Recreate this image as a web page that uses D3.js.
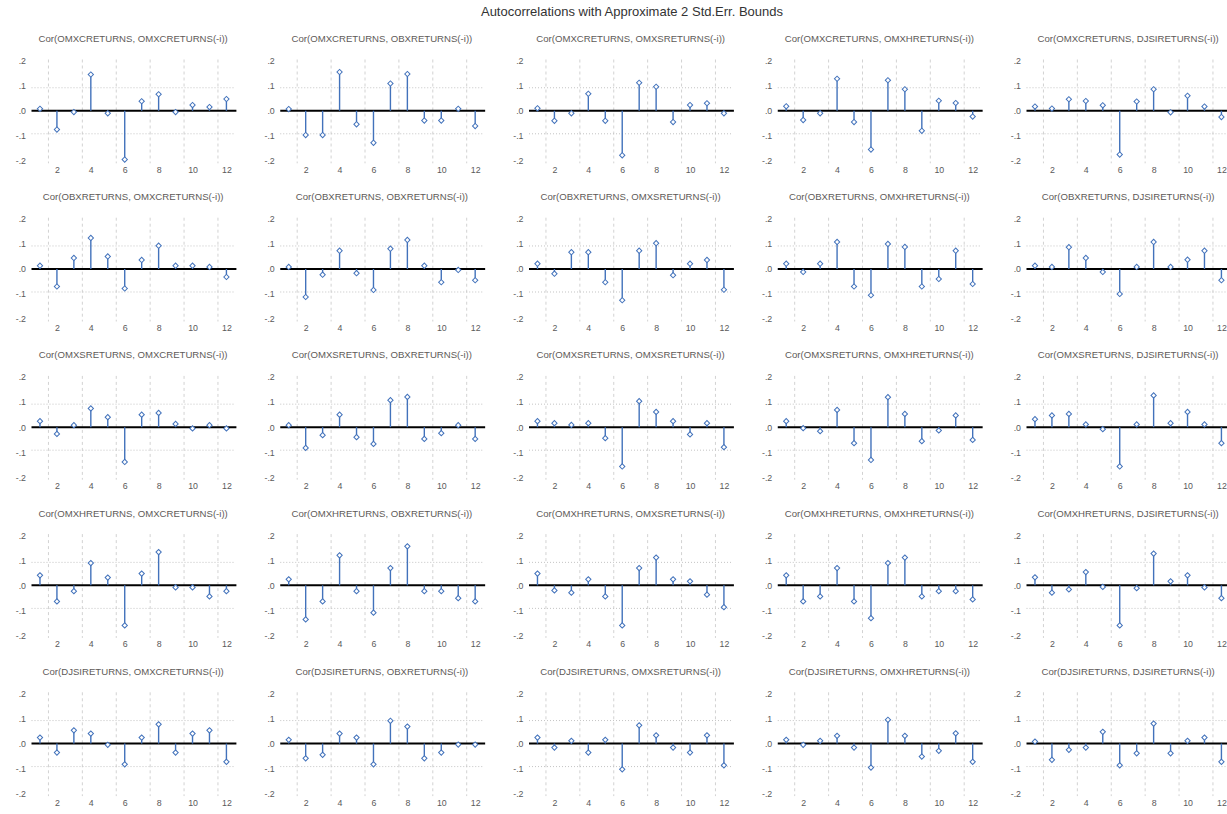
<!DOCTYPE html>
<html lang="en">
<head>
<meta charset="UTF-8">
<title>Autocorrelations with Approximate 2 Std.Err. Bounds</title>
<script src="https://cdn.jsdelivr.net/npm/d3@7"></script>
<style>
    body { margin: 0; background: #ffffff; }
    text { font-family: "Liberation Sans", Arial, sans-serif; }
</style>
</head>
<body>
<script>

    // series in row order; row = series, column = lagged series
    var seriesNames = ["OMXCRETURNS", "OBXRETURNS", "OMXSRETURNS", "OMXHRETURNS", "DJSIRETURNS"];
    var lags = [1, 2, 3, 4, 5, 6, 7, 8, 9, 10, 11, 12];
    var xTicks = [2, 4, 6, 8, 10, 12];
    var yTicks = [0.2, 0.1, 0, -0.1, -0.2];
    var yTickLabels = [".2", ".1", ".0", "-.1", "-.2"];
    var seBound = 0.092;
    var mainTitle = "Autocorrelations with Approximate 2 Std.Err. Bounds";

    // lags 1..12
    var corOMXC_OMXC = [0.008, -0.075, -0.005, 0.145, -0.01, -0.195, 0.038, 0.066, -0.005, 0.023, 0.015, 0.047];
    var corOMXC_OBX  = [0.007, -0.097, -0.097, 0.155, -0.054, -0.128, 0.109, 0.147, -0.039, -0.039, 0.008, -0.061];
    var corOMXC_OMXS = [0.01, -0.04, -0.01, 0.068, -0.04, -0.178, 0.112, 0.096, -0.045, 0.023, 0.03, -0.01];
    var corOMXC_OMXH = [0.018, -0.037, -0.01, 0.128, -0.045, -0.155, 0.122, 0.086, -0.08, 0.04, 0.031, -0.023];
    var corOMXC_DJSI = [0.017, 0.009, 0.046, 0.039, 0.022, -0.175, 0.037, 0.086, -0.006, 0.06, 0.017, -0.025];

    var corOBX_OMXC = [0.013, -0.07, 0.044, 0.124, 0.05, -0.078, 0.036, 0.093, 0.013, 0.013, 0.008, -0.032];
    var corOBX_OBX  = [0.008, -0.112, -0.023, 0.073, -0.017, -0.084, 0.081, 0.116, 0.013, -0.053, -0.004, -0.045];
    var corOBX_OMXS = [0.021, -0.019, 0.067, 0.067, -0.053, -0.125, 0.073, 0.103, -0.025, 0.021, 0.036, -0.083];
    var corOBX_OMXH = [0.021, -0.012, 0.021, 0.108, -0.07, -0.105, 0.1, 0.088, -0.07, -0.04, 0.073, -0.06];
    var corOBX_DJSI = [0.013, 0.008, 0.087, 0.044, -0.012, -0.1, 0.008, 0.108, 0.008, 0.037, 0.073, -0.045];

    var corOMXS_OMXC = [0.024, -0.027, 0.008, 0.075, 0.04, -0.139, 0.05, 0.057, 0.013, -0.005, 0.008, -0.005];
    var corOMXS_OBX  = [0.008, -0.083, -0.032, 0.05, -0.04, -0.067, 0.108, 0.121, -0.047, -0.024, 0.008, -0.047];
    var corOMXS_OMXS = [0.024, 0.016, 0.009, 0.016, -0.044, -0.157, 0.104, 0.061, 0.024, -0.029, 0.016, -0.08];
    var corOMXS_OMXH = [0.024, -0.004, -0.016, 0.069, -0.064, -0.131, 0.12, 0.053, -0.056, -0.013, 0.047, -0.051];
    var corOMXS_DJSI = [0.032, 0.047, 0.053, 0.011, -0.008, -0.157, 0.011, 0.127, 0.016, 0.061, 0.011, -0.064];

    var corOMXH_OMXC = [0.04, -0.064, -0.023, 0.089, 0.031, -0.16, 0.047, 0.133, -0.008, -0.008, -0.044, -0.023];
    var corOMXH_OBX  = [0.024, -0.136, -0.064, 0.12, -0.023, -0.109, 0.069, 0.156, -0.023, -0.023, -0.051, -0.064];
    var corOMXH_OMXS = [0.047, -0.02, -0.029, 0.024, -0.044, -0.16, 0.069, 0.111, 0.024, 0.016, -0.037, -0.087];
    var corOMXH_OMXH = [0.04, -0.064, -0.044, 0.069, -0.064, -0.131, 0.089, 0.111, -0.044, -0.023, -0.023, -0.056];
    var corOMXH_DJSI = [0.032, -0.029, -0.016, 0.053, -0.006, -0.16, -0.011, 0.127, 0.016, 0.04, -0.008, -0.051];

    var corDJSI_OMXC = [0.024, -0.036, 0.053, 0.04, -0.005, -0.083, 0.024, 0.077, -0.036, 0.04, 0.053, -0.073];
    var corDJSI_OBX  = [0.015, -0.059, -0.045, 0.04, 0.024, -0.083, 0.091, 0.068, -0.059, -0.036, -0.004, -0.004];
    var corDJSI_OMXS = [0.024, -0.016, 0.011, -0.036, 0.015, -0.103, 0.073, 0.033, -0.016, -0.036, 0.033, -0.087];
    var corDJSI_OMXH = [0.015, -0.005, 0.011, 0.031, -0.016, -0.096, 0.095, 0.031, -0.052, -0.029, 0.041, -0.073];
    var corDJSI_DJSI = [0.008, -0.065, -0.025, -0.016, 0.047, -0.087, -0.039, 0.08, -0.039, 0.011, 0.024, -0.073];

    var grid = [
        [corOMXC_OMXC, corOMXC_OBX, corOMXC_OMXS, corOMXC_OMXH, corOMXC_DJSI],
        [corOBX_OMXC, corOBX_OBX, corOBX_OMXS, corOBX_OMXH, corOBX_DJSI],
        [corOMXS_OMXC, corOMXS_OBX, corOMXS_OMXS, corOMXS_OMXH, corOMXS_DJSI],
        [corOMXH_OMXC, corOMXH_OBX, corOMXH_OMXS, corOMXH_OMXH, corOMXH_DJSI],
        [corDJSI_OMXC, corDJSI_OBX, corDJSI_OMXS, corDJSI_OMXH, corDJSI_DJSI]
    ];

    var widthSVG = 1227, heightSVG = 814;
    var panelW = 248.75, panelH = 158.2;
    var blue = "#4272bb";

    var svg = d3.select("body").append("svg")
                .attr("width", widthSVG)
                .attr("height", heightSVG);

    svg.append("text")
        .attr("x", 632)
        .attr("y", 16)
        .attr("text-anchor", "middle")
        .attr("font-size", "13px")
        .attr("fill", "#333333")
        .text(mainTitle);

    // same scales for every panel, panels are shifted with a transform
    var scaleX = d3.scaleLinear().domain([0.5, 12.5]).range([31.5, 234.9]);
    var scaleY = d3.scaleLinear().domain([-0.21, 0.205]).range([163.3, 59.5]);

    var gridX = d3.range(1.5, 12, 2);

    function drawPanel(g, values, title){
        g.append("text")
            .attr("x", scaleX(6.5))
            .attr("y", 42)
            .attr("text-anchor", "middle")
            .attr("font-size", "9.6px")
            .attr("fill", "#5e5a58")
            .text(title);

        // dashed vertical grid
        g.selectAll(".vgrid").data(gridX).enter().append("line")
            .attr("x1", function (d){ return scaleX(d); })
            .attr("x2", function (d){ return scaleX(d); })
            .attr("y1", scaleY(0.205))
            .attr("y2", scaleY(-0.21))
            .attr("stroke", "#d2d2d2")
            .attr("stroke-width", 1)
            .attr("stroke-dasharray", "3,3");

        // +-2 s.e. bounds
        g.selectAll(".bound").data([seBound, -seBound]).enter().append("line")
            .attr("x1", scaleX(0.5))
            .attr("x2", scaleX(12.5))
            .attr("y1", function (d){ return scaleY(d); })
            .attr("y2", function (d){ return scaleY(d); })
            .attr("stroke", "#c4c4c4")
            .attr("stroke-width", 1)
            .attr("stroke-dasharray", "1,2");

        var axisY = d3.axisLeft(scaleY)
                    .tickValues(yTicks)
                    .tickSize(0)
                    .tickPadding(1)
                    .tickFormat(function (d, i){ return yTickLabels[i]; });
        var gy = g.append("g").attr("transform", "translate(27,0)").call(axisY);
        gy.select(".domain").remove();
        gy.selectAll("text").attr("font-size", "8.8px").attr("fill", "#5a5a5a");

        var axisX = d3.axisBottom(scaleX)
                    .tickValues(xTicks)
                    .tickSize(0)
                    .tickPadding(0)
                    .tickFormat(d3.format("d"));
        var gx = g.append("g").attr("transform", "translate(0,166.5)").call(axisX);
        gx.select(".domain").remove();
        gx.selectAll("text").attr("font-size", "8.8px").attr("fill", "#5a5a5a");

        // zero line
        g.append("line")
            .attr("x1", scaleX(0.5))
            .attr("x2", scaleX(12.5) + 1.5)
            .attr("y1", scaleY(0))
            .attr("y2", scaleY(0))
            .attr("stroke", "#000000")
            .attr("stroke-width", 2);

        // stems
        g.selectAll(".stem").data(values).enter().append("line")
            .attr("x1", function (d, i){ return scaleX(lags[i]); })
            .attr("x2", function (d, i){ return scaleX(lags[i]); })
            .attr("y1", scaleY(0))
            .attr("y2", function (d){ return scaleY(d); })
            .attr("stroke", blue)
            .attr("stroke-width", 1.4);

        // diamond markers
        g.selectAll(".mark").data(values).enter().append("path")
            .attr("d", d3.symbol().type(d3.symbolSquare).size(14))
            .attr("transform", function (d, i){
                return "translate(" + scaleX(lags[i]) + "," + scaleY(d) + ") rotate(45)";
            })
            .attr("fill", "#ffffff")
            .attr("stroke", blue)
            .attr("stroke-width", 1);
    }

    grid.forEach(function (row, r){
        row.forEach(function (values, c){
            var g = svg.append("g")
                        .attr("transform", "translate(" + (c * panelW) + "," + (r * panelH) + ")");
            var title = "Cor(" + seriesNames[r] + ", " + seriesNames[c] + "(-i))";
            drawPanel(g, values, title);
        });
    });
</script>
</body>
</html>
